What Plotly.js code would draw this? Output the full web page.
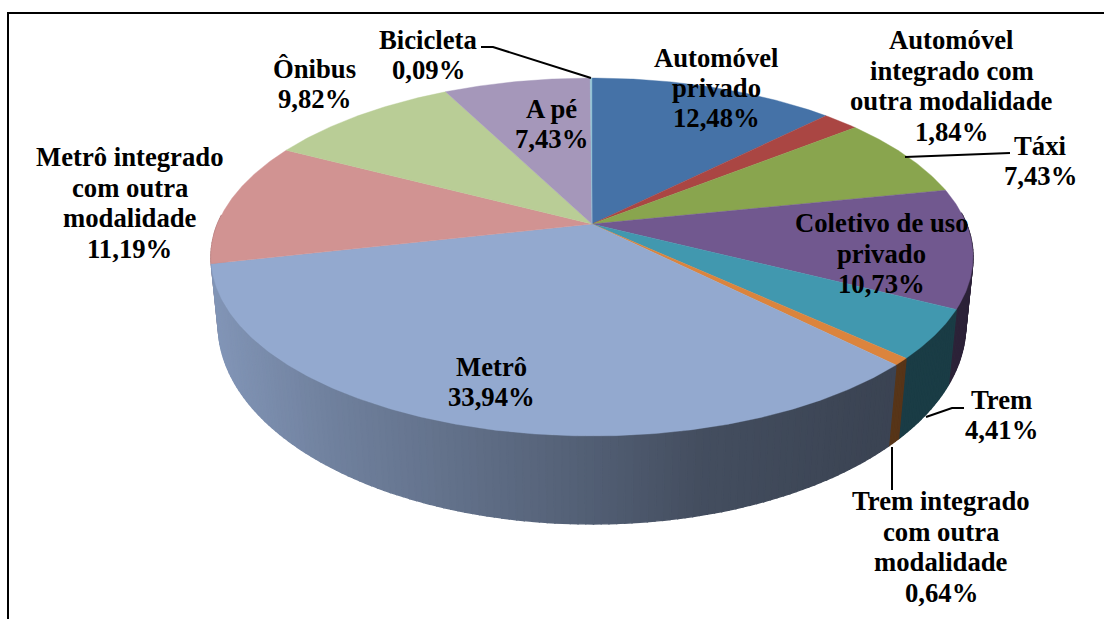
<!DOCTYPE html>
<html>
<head>
<meta charset="utf-8">
<script src="https://cdn.plot.ly/plotly-3.0.1.min.js"></script>
<style>html,body{margin:0;padding:0;background:#fff}#chart{width:1104px;height:619px}</style>
</head>
<body>
<div id="chart"></div>
<script>
// ---- data ----
const categories = ["Automóvel privado","Automóvel integrado com outra modalidade","Táxi","Coletivo de uso privado","Trem","Trem integrado com outra modalidade","Metrô","Metrô integrado com outra modalidade","Ônibus","A pé","Bicicleta"];
const values = [12.48,1.84,7.43,10.73,4.41,0.64,33.94,11.19,9.82,7.43,0.09];
const labelLines = [["Automóvel","privado"],["Automóvel","integrado com","outra modalidade"],["Táxi"],["Coletivo de uso","privado"],["Trem"],["Trem integrado","com outra","modalidade"],["Metrô"],["Metrô integrado","com outra","modalidade"],["Ônibus"],["A pé"],["Bicicleta"]];

// ---- style and layout (pixel space of the hidden axes) ----
const colors = [[69,114,167],[170,70,67],[137,165,78],[113,88,143],[65,152,175],[219,132,61],[147,169,207],[209,147,146],[185,205,150],[165,151,186],[146,195,212]];
const labelPos = [[716,88],[951.5,86],[1040,161],[881,253.5],[1001,415],[941,547],[491,382],[129.5,203],[314,84],[551,124],[428,55]];
const lineStep = 30.4;
const topPlane = {cx:592, cy:224, A:172.9, B:374.5, k:0.1844};
const botPlane = {cx:592, cy:290, A:193, B:368, k:0.175};
const shadeStops = [[215,.88],[330,.76],[590,.56],[700,.46],[880,.40],[980,.39]];

function project(p, th){
  const u = Math.sin(th), v = -Math.cos(th), w = 1 - p.k*v;
  return [p.cx + p.B*u/w, p.cy + p.A*v/w, v];
}
function shade(x){
  if (x <= shadeStops[0][0]) return shadeStops[0][1];
  for (let i=1;i<shadeStops.length;i++){
    const a=shadeStops[i-1], b=shadeStops[i];
    if (x<=b[0]) return a[1]+(b[1]-a[1])*(x-a[0])/(b[0]-a[0]);
  }
  return shadeStops[shadeStops.length-1][1];
}
const total = values.reduce((a,b)=>a+b,0);
const traces = [];
const wallStrips = [];
const step = 1.0*Math.PI/180;
let acc = 0;
const ranges = values.map(v=>{const r=[acc/total*2*Math.PI,(acc+v)/total*2*Math.PI];acc+=v;return r;});

// side wall: thin strips coloured by horizontal position
ranges.forEach((r,i)=>{
  const n = Math.max(1,Math.ceil((r[1]-r[0])/step));
  for(let j=0;j<n;j++){
    const a=r[0]+(r[1]-r[0])*j/n, b=r[0]+(r[1]-r[0])*(j+1)/n;
    const t0=project(topPlane,a), t1=project(topPlane,b), b0=project(botPlane,a), b1=project(botPlane,b);
    if (Math.max(t0[2],t1[2]) < -0.05) continue;
    const f=shade((t0[0]+t1[0])/2), c=colors[i];
    const col=`rgb(${Math.round(c[0]*f)},${Math.round(c[1]*f)},${Math.round(c[2]*f)})`;
    wallStrips.push({v:(t0[2]+t1[2])/2, trace:{
      x:[t0[0],t1[0],b1[0],b0[0],t0[0]], y:[t0[1],t1[1],b1[1],b0[1],t0[1]],
      type:"scatter",mode:"lines",fill:"toself",fillcolor:col,
      line:{color:col,width:1.4},hoverinfo:"skip",showlegend:false}});
  }
});
wallStrips.sort((p,q)=>p.v-q.v).forEach(s=>traces.push(s.trace));

// top surface: one filled wedge per value
ranges.forEach((r,i)=>{
  const xs=[topPlane.cx], ys=[topPlane.cy];
  const n=Math.max(2,Math.ceil((r[1]-r[0])/(0.5*Math.PI/180)));
  for(let j=0;j<=n;j++){
    const p=project(topPlane,r[0]+(r[1]-r[0])*j/n);
    xs.push(p[0]); ys.push(p[1]);
  }
  xs.push(topPlane.cx); ys.push(topPlane.cy);
  const col=`rgb(${colors[i].join(",")})`;
  traces.push({x:xs,y:ys,type:"scatter",mode:"lines",fill:"toself",fillcolor:col,
    line:{color:col,width:0.4},name:categories[i],hoverinfo:"name",showlegend:false});
});

const fmt = v => v.toFixed(2).replace(".",",")+"%";
const annotations = [];
categories.forEach((c,i)=>{
  const lines = labelLines[i].concat([fmt(values[i])]);
  lines.forEach((t,j)=>annotations.push({
    x:labelPos[i][0], y:labelPos[i][1]+(j-(lines.length-1)/2)*lineStep, xref:"x", yref:"y", showarrow:false,
    xanchor:"center", yanchor:"middle", align:"center",
    text:"<b>"+t+"</b>",
    font:{family:"Liberation Serif, Times New Roman, serif",size:26.7,color:"#000"}
  }));
});
const leader = (d,w)=>({type:"path",path:d,xref:"x",yref:"y",line:{color:"#000",width:w||2}});
const shapes = [
  leader("M481,47 L493,47 L591,78"),
  leader("M905,157 L1010,153"),
  leader("M926,417 L952,408 L964,408"),
  leader("M892,447 L892,490"),
  {type:"line",xref:"x",yref:"y",x0:8,x1:8,y0:12,y1:619,line:{color:"#000",width:2}},
  {type:"line",xref:"x",yref:"y",x0:7,x1:1104,y0:13,y1:13,line:{color:"#000",width:2}}
];
const layout = {
  width:1104,height:619,margin:{l:0,r:0,t:0,b:0},
  paper_bgcolor:"#fff",plot_bgcolor:"#fff",showlegend:false,
  xaxis:{range:[0,1104],visible:false,fixedrange:true},
  yaxis:{range:[619,0],visible:false,fixedrange:true},
  annotations,shapes
};
Plotly.newPlot("chart",traces,layout,{displayModeBar:false,staticPlot:true});
</script>
</body>
</html>
